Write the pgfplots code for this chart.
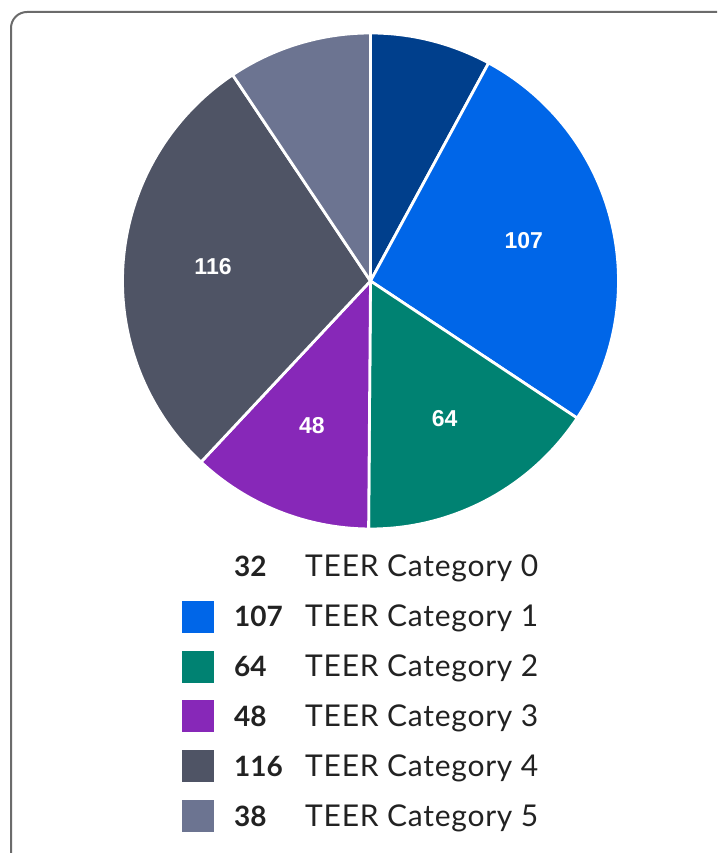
\documentclass[border=0pt]{standalone}
\usepackage{pgfplots}
\pgfplotsset{compat=1.18}
\usepackage{pgfplotstable}
\usetikzlibrary{calc}
\usepackage{fontspec}
\setmainfont{Lato}
\newfontfamily\legfont[LetterSpace=2.5]{Lato}
\newfontfamily\arialfont{Liberation Sans}
\definecolor{c0}{HTML}{003F8C}
\definecolor{c1}{HTML}{0066E8}
\definecolor{c2}{HTML}{008272}
\definecolor{c3}{HTML}{8728B8}
\definecolor{c4}{HTML}{4F5465}
\definecolor{c5}{HTML}{6C7491}
\definecolor{framegray}{HTML}{6B6B6B}
\definecolor{txt}{HTML}{222222}
\pgfplotstableread{
value color
32 c0
107 c1
64 c2
48 c3
116 c4
38 c5
}\piedata

\begin{document}
\begin{tikzpicture}
\begin{axis}[scale only axis, width=717pt, height=853pt,
  xmin=0, xmax=717, ymin=0, ymax=853, hide axis]
\pgfplotsextra{
  \draw[color=framegray, line width=2pt, rounded corners=16pt]
     (axis cs:11,-30) -- (axis cs:11,841) -- (axis cs:760,841);
  \pgfplotstablegetrowsof{\piedata}
  \pgfmathtruncatemacro\N{\pgfplotsretval-1}
  \gdef\tot{0}
  \foreach \i in {0,...,\N}{%
    \pgfplotstablegetelem{\i}{value}\of\piedata
    \pgfmathsetmacro\tnew{\tot+\pgfplotsretval}\xdef\tot{\tnew}}
  \gdef\cum{0}
  \foreach \i in {0,...,\N}{%
    \pgfplotstablegetelem{\i}{value}\of\piedata \edef\val{\pgfplotsretval}%
    \pgfplotstablegetelem{\i}{color}\of\piedata \edef\col{\pgfplotsretval}%
    \pgfmathsetmacro\aS{90-(360/\tot)*\cum}%
    \pgfmathsetmacro\aE{90-(360/\tot)*(\cum+\val)}%
    \pgfmathsetmacro\aM{(\aS+\aE)/2}%
    \fill[fill=\col, draw=white, line width=2.8pt, line join=round]
      (axis cs:370.5,572) -- ++(\aS:248pt) arc[start angle=\aS, end angle=\aE, radius=248pt] -- cycle;
    \pgfmathtruncatemacro\showlab{\val>45}%
    \ifnum\showlab=1
      \node[text=white, inner sep=0, font=\arialfont\bfseries\fontsize{23}{23}\selectfont]
        at ($(axis cs:370.5,574)+(\aM:158pt)$) {\val};
    \fi
    \pgfmathsetmacro\yc{853-(567+49.8*\i)}%
    \ifnum\i>0
      \fill[fill=\col] (axis cs:182,\yc-16) rectangle (axis cs:214,\yc+16);
    \fi
    \node[anchor=base west, inner sep=0, text=txt, font=\bfseries\fontsize{28}{28}\selectfont]
      at (axis cs:234,\yc-10) {\val};
    \node[anchor=base west, inner sep=0, text=txt, font=\legfont\fontsize{30}{30}\selectfont]
      at (axis cs:305,\yc-10) {TEER Category \i};
    \pgfmathsetmacro\cnew{\cum+\val}\xdef\cum{\cnew}%
  }
}
\end{axis}
\pgfresetboundingbox
\path[use as bounding box] (0,0) rectangle (717pt,853pt);
\end{tikzpicture}
\end{document}
